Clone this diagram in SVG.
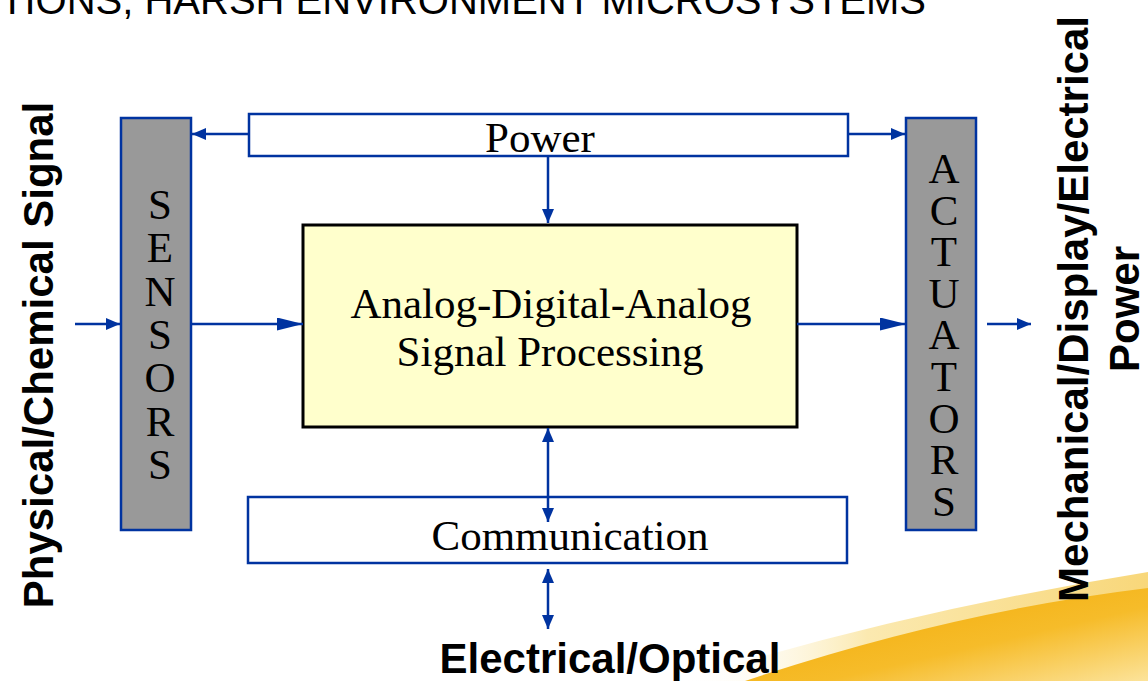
<svg xmlns="http://www.w3.org/2000/svg" width="1148" height="681" viewBox="0 0 1148 681">
<defs>
<style>
.serif{font-family:"Liberation Serif","Times New Roman",serif;font-size:43px;fill:#000}
.bold{font-family:"Liberation Sans",Arial,sans-serif;font-weight:bold;font-size:42px;fill:#000}
.title{font-family:"Liberation Sans",Arial,sans-serif;font-size:40px;fill:#000}
.blk{fill:#999999;stroke:#0033A0;stroke-width:2.5}
.wbox{fill:#FFFFFF;stroke:#0033A0;stroke-width:2.5}
.conn{stroke:#0033A0;stroke-width:2.5;fill:none}
</style>
<marker id="ah" markerUnits="userSpaceOnUse" markerWidth="14" markerHeight="12" refX="14" refY="6" orient="auto-start-reverse"><path d="M0,0 L14,6 L0,12 Z" fill="#0033A0"/></marker>
<marker id="ahL" markerUnits="userSpaceOnUse" markerWidth="26" markerHeight="13" refX="26" refY="6.5" orient="auto"><path d="M0,0 L26,6.5 L0,13 Z" fill="#0033A0"/></marker>
<linearGradient id="pale" x1="0" y1="0" x2="1" y2="0"><stop offset="0" stop-color="#FFFFFF" stop-opacity="0"/><stop offset="0.4" stop-color="#FBE9B0"/><stop offset="1" stop-color="#F8D77A"/></linearGradient>
<linearGradient id="orange" x1="0" y1="0" x2="1" y2="1"><stop offset="0" stop-color="#F2A800"/><stop offset="0.6" stop-color="#F6BC2A"/><stop offset="1" stop-color="#FCE39A"/></linearGradient>
</defs>
<rect width="1148" height="681" fill="#FFFFFF"/>
<g id="swoosh">
<path d="M680,681 Q900,612 1148,572 L1148,681 Z" fill="url(#pale)"/>
<path d="M745,681 Q950,612 1148,588 L1148,681 Z" fill="url(#orange)"/>
</g>
<g id="title"><text class="title" x="0" y="14">TIONS, HARSH ENVIRONMENT MICROSYSTEMS</text></g>
<g id="sensors">
<rect class="blk" x="121" y="118" width="70" height="412"/>
<g class="serif" text-anchor="middle">
<text x="160" y="219">S</text><text x="160" y="262">E</text><text x="160" y="306">N</text><text x="160" y="349">S</text><text x="160" y="392">O</text><text x="160" y="436">R</text><text x="160" y="479">S</text>
</g>
</g>
<g id="actuators">
<rect class="blk" x="906" y="118" width="70" height="412"/>
<g class="serif" text-anchor="middle">
<text x="944" y="183">A</text><text x="944" y="225">C</text><text x="944" y="266">T</text><text x="944" y="308">U</text><text x="944" y="349">A</text><text x="944" y="391">T</text><text x="944" y="433">O</text><text x="944" y="474">R</text><text x="944" y="516">S</text>
</g>
</g>
<g id="power">
<rect class="wbox" x="249" y="114" width="599" height="42"/>
<text class="serif" x="540" y="152" text-anchor="middle">Power</text>
</g>
<g id="processing">
<rect x="303" y="225" width="494" height="202" fill="#FFFFCC" stroke="#000000" stroke-width="3"/>
<text class="serif" x="551" y="318" text-anchor="middle">Analog-Digital-Analog</text>
<text class="serif" x="550" y="366" text-anchor="middle">Signal Processing</text>
</g>
<g id="communication">
<rect class="wbox" x="248" y="497" width="599" height="66"/>
<text class="serif" x="570" y="550" text-anchor="middle">Communication</text>
</g>
<g id="input-label"><text class="bold" transform="translate(53,355) rotate(-90)" text-anchor="middle">Physical/Chemical Signal</text></g>
<g id="output-label" class="bold" text-anchor="middle">
<text transform="translate(1088,309) rotate(-90)">Mechanical/Display/Electrical</text>
<text transform="translate(1139,309) rotate(-90)">Power</text>
</g>
<g id="comm-label"><text class="bold" x="610" y="673" text-anchor="middle">Electrical/Optical</text></g>
<g id="connectors">
<path class="conn" d="M75,324 L120,324" marker-end="url(#ah)"/>
<path class="conn" d="M191,324 L303,324" marker-end="url(#ahL)"/>
<path class="conn" d="M797,324 L906,324" marker-end="url(#ahL)"/>
<path class="conn" d="M987,324 L1031,324" marker-end="url(#ah)"/>
<path class="conn" d="M249,134 L192,134" marker-end="url(#ah)"/>
<path class="conn" d="M848,134 L905,134" marker-end="url(#ah)"/>
<path class="conn" d="M548,156 L548,223" marker-end="url(#ah)"/>
<path class="conn" d="M548,428 L548,522" marker-start="url(#ah)" marker-end="url(#ah)"/>
<path class="conn" d="M548,569 L548,629" marker-start="url(#ah)" marker-end="url(#ah)"/>
</g>
</svg>
